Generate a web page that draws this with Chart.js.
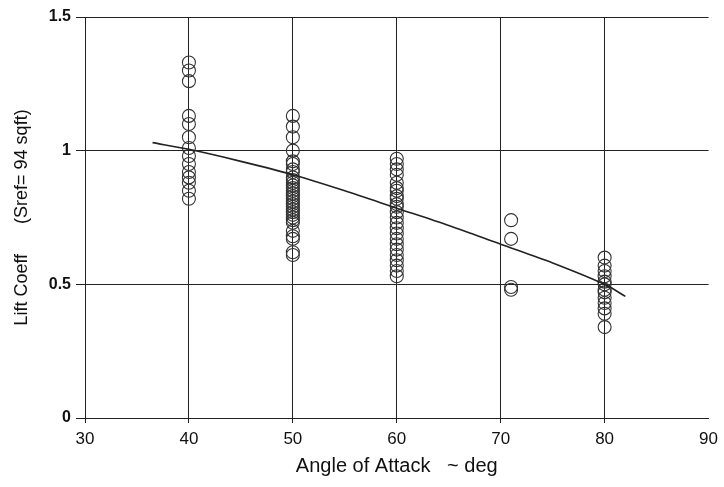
<!DOCTYPE html>
<html>
<head>
<meta charset="utf-8">
<script src="https://cdn.jsdelivr.net/npm/chart.js@4.4.8/dist/chart.umd.min.js"></script>
<style>
  html, body { margin: 0; padding: 0; background: #fff; }
  #wrap { width: 724px; height: 487px; }
</style>
</head>
<body>
<div id="wrap"><canvas id="liftChart" width="724" height="487"></canvas></div>
<script>
// measured lift coefficients, grouped by angle of attack
const angles = [40, 50, 60, 71, 80];
const lift40 = [1.33, 1.30, 1.26, 1.13, 1.10, 1.05, 1.01, 0.98, 0.95, 0.92, 0.90, 0.88, 0.85, 0.82];
const lift50 = [1.13, 1.09, 1.05, 1.00, 0.96, 0.95, 0.93, 0.92, 0.90, 0.89, 0.88, 0.87, 0.86, 0.85,
  0.84, 0.83, 0.82, 0.81, 0.80, 0.79, 0.78, 0.77, 0.76, 0.75, 0.74, 0.73, 0.70, 0.68, 0.67, 0.62, 0.61];
const lift60 = [0.97, 0.95, 0.93, 0.91, 0.88, 0.86, 0.85, 0.83, 0.82, 0.80, 0.79, 0.77, 0.75, 0.73,
  0.71, 0.69, 0.67, 0.65, 0.63, 0.61, 0.59, 0.57, 0.55, 0.53];
const lift71 = [0.74, 0.67, 0.49, 0.48];
const lift80 = [0.60, 0.57, 0.55, 0.53, 0.51, 0.50, 0.48, 0.47, 0.45, 0.43, 0.41, 0.39, 0.34];

// faired curve through the data
const fitAngles = [36.5, 40, 45, 50, 55, 60, 65, 70, 75, 80, 82];
const fitLift = [1.03, 1.005, 0.96, 0.91, 0.85, 0.785, 0.72, 0.65, 0.58, 0.50, 0.455];

const xTicks = [30, 40, 50, 60, 70, 80, 90];
const yTicks = [0, 0.5, 1, 1.5];

const columns = [lift40, lift50, lift60, lift71, lift80];
const points = [];
columns.forEach((vals, i) => {
  vals.forEach(v => points.push({ x: angles[i], y: v }));
});
const fitPoints = fitAngles.map((a, i) => ({ x: a, y: fitLift[i] }));

const ink = "#111";
const fontFamily = "'Liberation Sans', Arial, sans-serif";

new Chart(document.getElementById("liftChart"), {
  type: "scatter",
  data: {
    datasets: [
      {
        type: "line",
        data: fitPoints,
        borderColor: "#222",
        borderWidth: 1.6,
        pointRadius: 0,
        tension: 0.3,
        fill: false
      },
      {
        data: points,
        pointRadius: 6.5,
        pointBorderWidth: 1.1,
        pointBorderColor: "#333",
        pointBackgroundColor: "rgba(255,255,255,0)"
      }
    ]
  },
  options: {
    responsive: false,
    animation: false,
    layout: { padding: { left: 0, top: 17, right: 15, bottom: 0 } },
    plugins: { legend: { display: false }, tooltip: { enabled: false } },
    scales: {
      x: {
        type: "linear",
        min: 30,
        max: 90,
        afterBuildTicks: s => { s.ticks = xTicks.map(v => ({ value: v })); },
        afterFit: s => { s.height = 69; },
        ticks: {
          color: ink,
          padding: 6,
          maxRotation: 0,
          callback: v => String(v),
          font: { family: fontFamily, size: 17 }
        },
        grid: {
          color: ctx => (ctx.tick && ctx.tick.value === 90 ? "rgba(0,0,0,0)" : "#222"),
          lineWidth: 1,
          tickLength: 5
        },
        border: { color: "#222", width: 1 },
        title: {
          display: true,
          text: "Angle of Attack   ~ deg",
          color: ink,
          padding: { top: 0, bottom: 9 },
          font: { family: fontFamily, size: 20 }
        }
      },
      y: {
        min: 0,
        max: 1.5,
        afterBuildTicks: s => { s.ticks = yTicks.map(v => ({ value: v })); },
        afterFit: s => { s.width = 85; },
        ticks: {
          color: ink,
          padding: 5,
          callback: v => String(v),
          font: { family: fontFamily, size: 16, weight: "bold" }
        },
        grid: { color: "#222", lineWidth: 1, tickLength: 9 },
        border: { color: "#222", width: 1 },
        title: {
          display: true,
          text: "Lift Coeff      (Sref= 94 sqft)",
          color: ink,
          padding: { top: 11, bottom: 0 },
          font: { family: fontFamily, size: 18 }
        }
      }
    }
  }
});
</script>
</body>
</html>
